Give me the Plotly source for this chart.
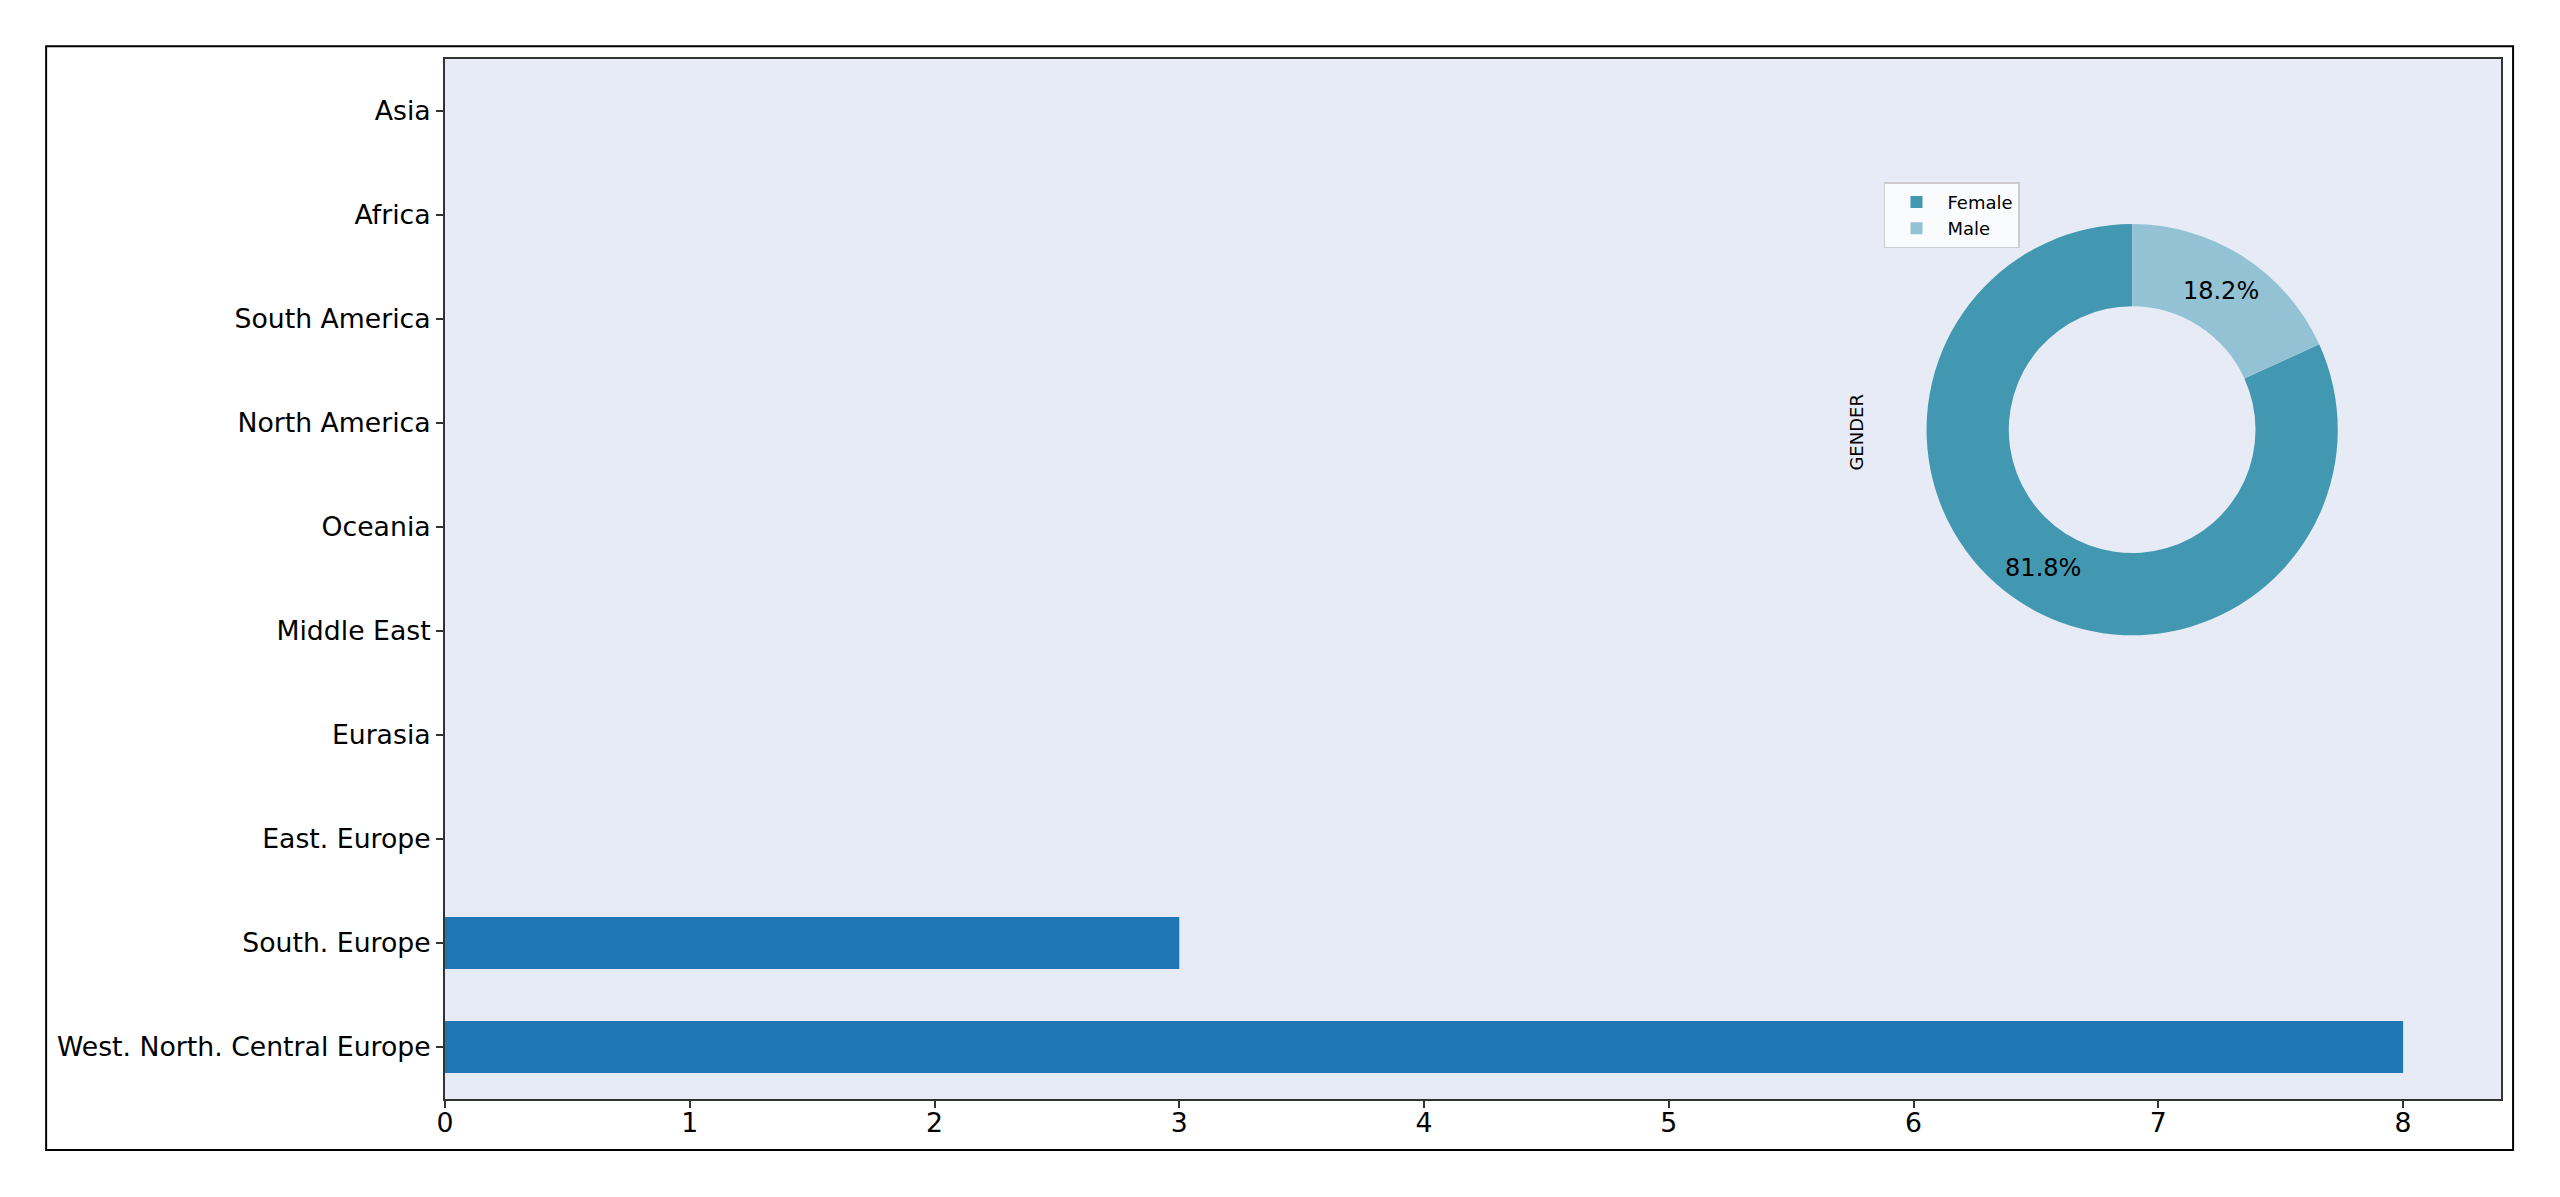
import plotly.graph_objects as go

# ---- data ----
regions = ["West. North. Central Europe", "South. Europe", "East. Europe", "Eurasia",
           "Middle East", "Oceania", "North America", "South America", "Africa", "Asia"]
region_counts = [8, 3, 0, 0, 0, 0, 0, 0, 0, 0]
x_ticks = [0, 1, 2, 3, 4, 5, 6, 7, 8]

gender_labels = ["Female", "Male"]
gender_counts = [9, 2]
gender_colors = ["#4298b0", "#93c2d4"]

FONT = "DejaVu Sans"

# matplotlib-style: first slice starts at 12 o'clock going counterclockwise
# -> equivalent plotly clockwise layout rotated by the share of the remaining slices
pie_rotation = 360.0 * sum(gender_counts[1:]) / sum(gender_counts)

fig = go.Figure()
fig.add_trace(go.Bar(
    y=regions, x=region_counts, orientation="h", width=0.5,
    marker=dict(color="#1f77b4", line=dict(width=0)),
    showlegend=False,
))

fig.add_trace(go.Pie(
    labels=gender_labels, values=gender_counts,
    marker=dict(colors=gender_colors, line=dict(width=0)),
    hole=0.6, sort=False, direction="clockwise", rotation=pie_rotation,
    domain=dict(x=[0.7206, 0.9206], y=[0.4459, 0.8413]),
    textinfo="percent", texttemplate="%{percent:.1%}",
    textposition="inside", insidetextorientation="horizontal",
    textfont=dict(size=24, color="black", family=FONT),
    showlegend=True,
))

fig.update_layout(
    width=2552, height=1189,
    margin=dict(l=437, r=59, t=51, b=98),
    paper_bgcolor="white", plot_bgcolor="#E6EBF6",
    font=dict(family=FONT, size=26, color="black"),
    legend=dict(x=0.6999, y=0.8815, xanchor="left", yanchor="top",
                bgcolor="rgba(255,255,255,0.8)", bordercolor="#cccccc", borderwidth=1.5,
                font=dict(size=18, family=FONT), itemwidth=52, tracegroupgap=0),
    xaxis=dict(range=[0, 8.4], tickvals=x_ticks, ticks="outside", ticklen=7, tickwidth=1.5,
               tickcolor="#333333", showline=True, linecolor="#333333", linewidth=2, mirror=True,
               showgrid=False, zeroline=False, tickfont=dict(size=26.7), ticklabelstandoff=-8),
    yaxis=dict(categoryorder="array", categoryarray=regions, range=[-0.5, 9.5],
               ticks="outside", ticklen=7, tickwidth=1.5, tickcolor="#333333",
               showline=True, linecolor="#333333", linewidth=2, mirror=True,
               showgrid=False, zeroline=False, tickfont=dict(size=26.7)),
    annotations=[dict(text="GENDER", x=0.6866, y=0.6414, xref="paper", yref="paper",
                      xanchor="center", yanchor="middle",
                      textangle=-90, showarrow=False, font=dict(size=18, family=FONT))],
    shapes=[dict(type="rect", xref="paper", yref="paper",
                 x0=-0.194, x1=1.00588, y0=-0.04902, y1=1.01221,
                 line=dict(color="black", width=2), fillcolor="rgba(0,0,0,0)", layer="below")],
)

fig.write_html("out.html")
